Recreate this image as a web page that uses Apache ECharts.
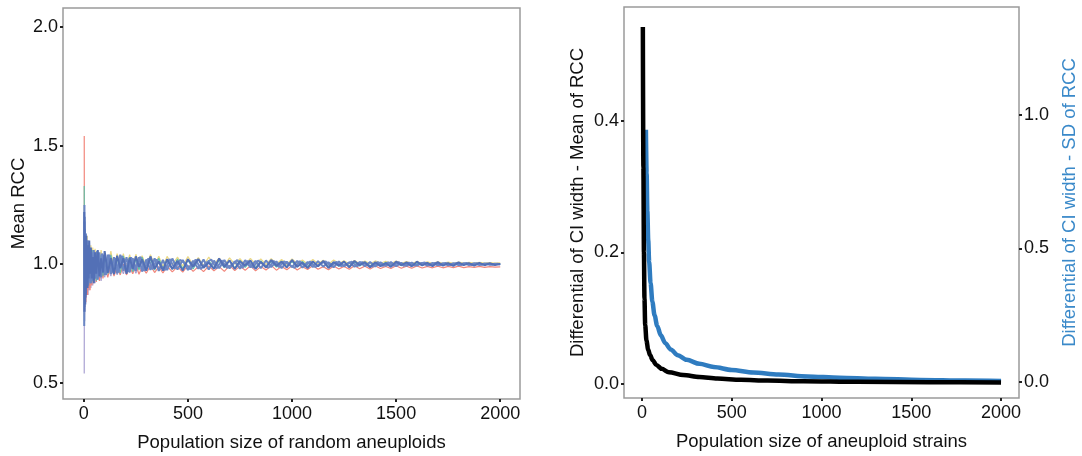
<!DOCTYPE html>
<html>
<head>
<meta charset="utf-8">
<script src="https://cdn.jsdelivr.net/npm/echarts@6/dist/echarts.min.js"></script>
<style>
html,body{margin:0;padding:0;background:#fff;}
#chart{width:1082px;height:456px;}
</style>
</head>
<body>
<div id="chart"></div>
<script>
// ---------- Left panel: population sizes (shared x grid) ----------
const popSizes = [
  2,3,4,5,6,7,8,10,12,14,
  16,18,20,23,26,30,34,38,43,48,
  54,60,67,75,83,92,100,115,130,145,
  160,175,190,205,220,235,250,265,280,300,
  320,340,360,380,400,425,450,475,500,525,
  550,575,600,625,650,675,700,725,750,775,
  800,825,850,875,900,925,950,975,1000,1025,
  1050,1075,1100,1125,1150,1175,1200,1225,1250,1275,
  1300,1325,1350,1375,1400,1425,1450,1475,1500,1525,
  1550,1575,1600,1625,1650,1675,1700,1725,1750,1775,
  1800,1825,1850,1875,1900,1925,1950,1975,2000
];
const popSizesAlt = [
  3,4,5,6,7,8,9,11,13,15,
  17,19,21,24,28,32,36,40,45,51,
  57,63,71,79,87,96,107,122,137,152,
  167,182,197,212,227,242,257,272,290,310,
  330,350,370,390,412,437,462,487,512,537,
  562,587,612,637,662,687,712,737,762,787,
  812,837,862,887,912,937,962,987,1012,1037,
  1062,1087,1112,1137,1162,1187,1212,1237,1262,1287,
  1312,1337,1362,1387,1412,1437,1462,1487,1512,1537,
  1562,1587,1612,1637,1662,1687,1712,1737,1762,1787,
  1812,1837,1862,1887,1912,1937,1962,1987,2000
];
const rccBlueA = [
  1.22,0.80,1.20,0.88,1.11,0.83,1.07,0.87,1.12,0.96,
  1.08,0.90,1.06,0.94,1.10,0.96,1.07,0.94,1.03,0.92,
  1.05,0.96,1.06,0.95,1.025,0.965,1.055,0.964,1.025,0.958,
  1.036,0.983,1.025,0.96,1.027,0.981,1.033,0.989,1.021,0.973,
  1.033,0.981,1.012,0.973,1.021,0.980,1.014,0.973,1.021,0.990,
  1.022,0.985,1.007,0.981,1.024,0.989,1.016,0.980,1.013,0.994,
  1.016,0.980,1.010,0.986,1.018,0.993,1.011,0.986,1.018,0.989,
  1.007,0.984,1.012,0.991,1.014,0.984,1.009,0.994,1.011,0.987,
  1.014,0.996,1.009,0.987,1.008,0.992,1.005,0.989,1.011,0.996,
  1.008,0.991,1.011,0.995,1.006,0.992,1.009,0.994,1.005,0.993,
  1.008,0.996,1.005,0.994,1.006,0.996,1.004,0.997,1.001
];
const rccBlueB = [
  0.74,1.25,0.82,1.15,0.86,1.12,0.90,1.13,0.90,1.09,
  0.92,1.10,0.92,1.08,0.93,1.06,0.92,1.05,0.935,1.06,
  0.94,1.04,0.935,1.05,0.945,1.04,0.955,1.04,0.96,1.03,
  0.962,1.04,0.972,1.03,0.966,1.025,0.972,1.03,0.97,1.02,
  0.976,1.025,0.972,1.018,0.975,1.024,0.978,1.018,0.976,1.015,
  0.981,1.02,0.978,1.015,0.983,1.018,0.982,1.012,0.981,1.017,
  0.987,1.014,0.983,1.016,0.988,1.012,0.984,1.011,0.988,1.014,
  0.986,1.01,0.988,1.013,0.99,1.008,0.987,1.012,0.991,1.008,
  0.989,1.01,0.992,1.009,0.991,1.008,0.993,1.009,0.992,1.006,
  0.993,1.007,0.994,1.006,0.994,1.006,0.995,1.005,0.995,1.005,
  0.996,1.004,0.997,1.004,0.997,1.003,0.998,1.002,1.0
];
const rccBlueC = [
  1.18,0.85,1.09,0.90,1.13,0.86,1.03,0.88,1.06,0.92,
  1.10,0.95,0.91,1.07,0.97,0.92,1.06,1.01,0.93,1.05,
  0.94,1.055,0.99,0.945,1.045,1.02,0.955,1.04,0.965,1.025,
  0.965,1.035,1.01,0.968,1.03,0.975,1.008,1.032,0.972,1.025,
  0.978,1.02,0.995,0.975,1.022,0.982,1.018,1.004,0.978,1.02,
  0.98,1.006,1.02,0.982,1.016,0.985,0.998,1.018,0.984,1.014,
  0.986,1.015,1.0,0.985,1.014,0.988,1.012,0.997,0.985,1.013,
  0.99,1.012,0.988,1.003,1.012,0.99,1.01,0.992,1.0,1.011,
  0.991,1.009,0.996,0.99,1.009,0.993,1.008,0.994,1.009,0.993,
  1.007,0.994,1.002,1.007,0.995,1.006,0.996,1.006,0.996,1.005,
  0.997,1.005,0.997,1.004,0.998,1.003,0.998,1.002,1.0
];
const rccRed = [
  1.54,0.78,1.14,0.82,1.08,0.86,1.05,0.84,1.06,0.88,
  1.02,0.87,1.04,0.90,1.01,0.89,1.03,0.91,1.0,0.92,
  1.02,0.925,1.0,0.93,1.01,0.94,0.995,0.945,1.0,0.95,
  0.99,0.955,1.0,0.955,0.99,0.96,0.998,0.958,0.99,0.962,
  0.995,0.965,0.99,0.963,0.992,0.968,0.99,0.967,0.995,0.97,
  0.99,0.969,0.993,0.972,0.99,0.97,0.995,0.973,0.992,0.975,
  0.993,0.972,0.99,0.976,0.995,0.975,0.991,0.977,0.994,0.976,
  0.99,0.978,0.995,0.979,0.99,0.977,0.993,0.98,0.991,0.979,
  0.994,0.981,0.992,0.98,0.993,0.982,0.991,0.982,0.994,0.983,
  0.992,0.983,0.993,0.984,0.991,0.985,0.992,0.985,0.991,0.986,
  0.992,0.986,0.99,0.987,0.991,0.987,0.99,0.988,0.989
];
const rccYellow = [
  1.10,0.90,1.16,0.93,1.12,0.95,1.13,0.96,1.11,0.95,
  1.12,0.97,1.08,0.96,1.09,0.97,1.08,0.965,1.07,0.97,
  1.065,0.98,1.055,0.975,1.06,0.98,1.05,0.985,1.055,0.98,
  1.045,0.99,1.045,0.985,1.04,0.99,1.042,0.995,1.036,0.99,
  1.04,0.995,1.034,0.99,1.033,0.997,1.03,0.992,1.032,0.998,
  1.028,0.994,1.03,0.999,1.026,0.996,1.027,1.0,1.024,0.997,
  1.025,1.0,1.022,0.998,1.024,1.001,1.02,0.999,1.022,1.002,
  1.018,1.0,1.02,1.002,1.017,1.0,1.018,1.003,1.015,1.001,
  1.016,1.003,1.014,1.002,1.014,1.004,1.012,1.003,1.013,1.004,
  1.011,1.003,1.011,1.004,1.01,1.004,1.01,1.004,1.009,1.004,
  1.009,1.005,1.008,1.005,1.008,1.005,1.007,1.005,1.006
];
const rccTeal = [
  1.33,0.76,1.10,0.85,1.14,0.90,1.09,0.89,1.07,0.92,
  1.09,0.93,1.05,0.91,1.07,0.94,1.05,0.925,1.06,0.95,
  1.04,0.93,1.045,0.955,1.04,0.95,1.035,0.96,1.04,0.965,
  1.03,0.962,1.035,0.97,1.03,0.968,1.025,0.975,1.03,0.975,
  1.022,0.976,1.025,0.98,1.02,0.978,1.022,0.982,1.018,0.98,
  1.02,0.985,1.016,0.982,1.017,0.986,1.015,0.984,1.016,0.987,
  1.013,0.986,1.014,0.989,1.012,0.988,1.013,0.99,1.011,0.989,
  1.012,0.991,1.01,0.99,1.011,0.992,1.009,0.991,1.01,0.993,
  1.008,0.992,1.009,0.994,1.007,0.993,1.008,0.995,1.006,0.994,
  1.007,0.996,1.005,0.995,1.006,0.996,1.005,0.997,1.004,0.997,
  1.004,0.998,1.003,0.998,1.003,0.999,1.002,0.999,1.001
];
// purple run only covers the first 40 population sizes
const rccPurple = [
  0.54,1.18,0.76,1.05,0.80,1.08,0.84,1.04,0.86,1.05,
  0.88,1.03,0.87,1.04,0.89,1.02,0.90,1.03,0.91,1.01,
  0.92,1.02,0.935,1.0,0.93,1.01,0.945,1.0,0.95,1.01,
  0.955,0.995,0.96,1.005,0.965,1.0,0.962,0.995,0.968,1.0
];

// ---------- Right panel ----------
const meanX = [5,8,11,14,18,25,35,45,60,80,110,150,230,320,420,550,700,900,1200,1600,2000];
const meanDiff = [0.543,0.33,0.20,0.13,0.09,0.066,0.052,0.044,0.036,0.029,0.023,0.018,0.0137,0.0105,0.0082,0.0065,0.0052,0.0042,0.0033,0.0026,0.0022];
const sdX = [22,26,30,35,40,48,58,70,85,105,130,160,200,250,320,400,500,620,760,920,1100,1300,1550,1800,2000];
const sdDiff = [0.944,0.78,0.64,0.53,0.45,0.37,0.30,0.25,0.21,0.175,0.145,0.122,0.10,0.083,0.068,0.056,0.045,0.036,0.028,0.021,0.016,0.012,0.008,0.0055,0.004];

// tick labels
const xTicks = [0,500,1000,1500,2000];
const yTicksLeft = [0.5,1.0,1.5,2.0];
const yTicksMean = [0.0,0.2,0.4];
const yTicksSD = [0.0,0.5,1.0];

const FONT = 'Liberation Sans, Arial, sans-serif';
const pairs = (xs, ys) => ys.map((y, i) => [xs[i], y]);

function xAxisCfg(gi, name, max) {
  return {
    type: 'value', gridIndex: gi, min: -100, max: max,
    axisLine: {show: false, onZero: false}, splitLine: {show: false},
    axisTick: {show: true, length: 3, customValues: xTicks, lineStyle: {color: '#222', width: 2}},
    axisLabel: {customValues: xTicks, color: '#111', fontSize: 18, fontFamily: FONT, margin: 6,
      formatter: v => String(Math.round(v))},
    name: name, nameLocation: 'middle', nameGap: 34,
    nameTextStyle: {color: '#111', fontSize: 18.5, fontFamily: FONT}
  };
}
function yAxisCfg(gi, pos, min, max, ticks, name, nameGap, nameColor) {
  return {
    type: 'value', gridIndex: gi, position: pos, min: min, max: max,
    axisLine: {show: false, onZero: false}, splitLine: {show: false},
    axisTick: {show: true, length: 3, customValues: ticks, lineStyle: {color: '#222', width: 2}},
    axisLabel: {customValues: ticks, color: '#111', fontSize: 18, fontFamily: FONT, margin: 5,
      formatter: v => Number(v).toFixed(1)},
    name: name, nameLocation: 'middle', nameGap: nameGap, nameRotate: 90,
    nameTextStyle: {color: nameColor, fontSize: 18.5, fontFamily: FONT}
  };
}

function noisy(data, color, width) {
  return {
    type: 'line', xAxisIndex: 0, yAxisIndex: 0, data: data,
    showSymbol: false, symbol: 'none', silent: true,
    lineStyle: {color: color, width: width}
  };
}

const gridBase = {show: true, borderColor: '#9a9a9a', borderWidth: 1.5, backgroundColor: 'rgba(0,0,0,0)',
  containLabel: false, outerBoundsMode: 'none'};

const chart = echarts.init(document.getElementById('chart'), null, {renderer: 'canvas'});
chart.setOption({
  animation: false,
  backgroundColor: '#fff',
  grid: [
    Object.assign({left: 63, top: 8, width: 457, height: 391}, gridBase),
    Object.assign({left: 624, top: 7, width: 395, height: 391}, gridBase)
  ],
  xAxis: [
    xAxisCfg(0, 'Population size of random aneuploids', 2095),
    xAxisCfg(1, 'Population size of aneuploid strains', 2100)
  ],
  yAxis: [
    yAxisCfg(0, 'left', 0.432, 2.08, yTicksLeft, 'Mean RCC', 35, '#111'),
    yAxisCfg(1, 'left', -0.0213, 0.5733, yTicksMean, 'Differential of CI width - Mean of RCC', 37, '#111'),
    yAxisCfg(1, 'right', -0.0598, 1.4029, yTicksSD, 'Differential of CI width - SD of RCC', 41, '#3a89c9')
  ],
  series: [
    noisy(pairs(popSizes, rccPurple), '#a9a1d2', 1.2),
    noisy(pairs(popSizes, rccRed), '#f2867b', 1.2),
    noisy(pairs(popSizes, rccYellow), '#ecd985', 1.2),
    noisy(pairs(popSizes, rccTeal), '#63c0a6', 1.2),
    noisy(pairs(popSizesAlt, rccBlueC), '#6d88c6', 2),
    noisy(pairs(popSizes, rccBlueB), '#6a86c4', 2),
    noisy(pairs(popSizes, rccBlueA), '#5370b6', 2),
    {
      type: 'line', xAxisIndex: 1, yAxisIndex: 2, data: pairs(sdX, sdDiff),
      showSymbol: false, symbol: 'none', silent: true, smooth: 0.3, smoothMonotone: 'x',
      lineStyle: {color: '#2f7cc0', width: 4.5}
    },
    {
      type: 'line', xAxisIndex: 1, yAxisIndex: 1, data: pairs(meanX, meanDiff),
      showSymbol: false, symbol: 'none', silent: true, smooth: 0.3, smoothMonotone: 'x',
      lineStyle: {color: '#000', width: 4.5}
    }
  ]
});
</script>
</body>
</html>
